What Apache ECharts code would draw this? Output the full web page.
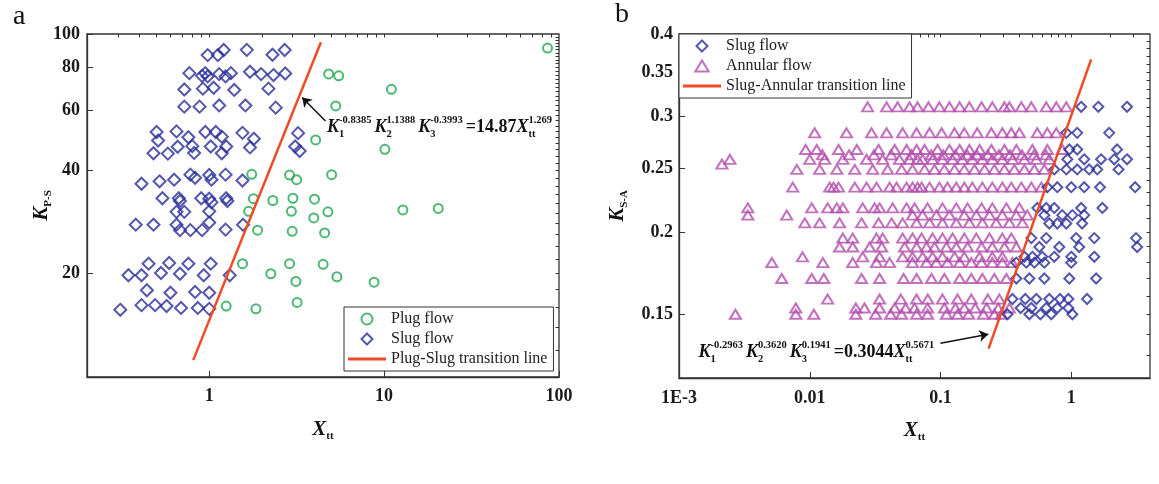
<!DOCTYPE html>
<html>
<head>
<meta charset="utf-8">
<script src="https://cdn.jsdelivr.net/npm/echarts@6/dist/echarts.min.js"></script>
<style>
  html, body { margin: 0; padding: 0; background: #fff; }
  #wrap { position: relative; width: 1159px; height: 484px; }
  #chartA { position: absolute; left: 0; top: 0; width: 580px; height: 484px; }
  #chartB { position: absolute; left: 580px; top: 0; width: 579px; height: 484px; }
</style>
</head>
<body>
<div id="wrap">
  <div id="chartA"></div>
  <div id="chartB"></div>
</div>
<script>
// ---------- panel a : Plug / Slug ----------
const plugFlowA = [
  [86, 91], [4.82, 76.5], [5.5, 75.5], [11.0, 69.0], [5.29, 61.7], [4.06, 49.1], [10.1, 46.1],
  [1.75, 39.0], [2.88, 38.8], [3.16, 37.6], [5.01, 38.9],
  [1.79, 33.1], [2.31, 32.7], [3.01, 33.2], [4.0, 33.0],
  [1.68, 30.4], [2.95, 30.4], [3.96, 29.1], [4.77, 30.3], [12.8, 30.7], [20.4, 31.0],
  [1.89, 26.8], [2.98, 26.6], [4.57, 26.3],
  [1.55, 21.4], [2.25, 20.0], [2.88, 21.4], [3.13, 19.0], [4.48, 21.3], [5.37, 19.6], [8.76, 18.9],
  [1.25, 16.1], [1.85, 15.8], [3.18, 16.5]
]
const slugFlowA = [
  [0.98, 86.8], [1.12, 86.8], [1.21, 89.8], [1.64, 89.9], [2.30, 87.0], [2.70, 89.8],
  [0.77, 76.9], [0.91, 75.5], [0.95, 76.9], [0.98, 75.2], [1.14, 76.4], [1.24, 75.2], [1.33, 76.9],
  [1.71, 77.6], [1.98, 76.4], [2.33, 75.9], [2.72, 76.7],
  [0.72, 68.9], [0.92, 69.3], [1.06, 69.7], [1.39, 68.7], [2.18, 69.3],
  [0.72, 61.4], [0.88, 61.4], [1.14, 61.9], [1.61, 61.9], [2.40, 61.0],
  [0.50, 51.8], [0.51, 48.9], [0.65, 52.0], [0.76, 50.0], [0.80, 47.1], [0.95, 51.8], [1.09, 51.8],
  [1.18, 50.2], [1.55, 51.5], [1.80, 49.5], [3.22, 51.4],
  [0.48, 44.9], [0.58, 44.8], [0.66, 46.9], [0.82, 45.0], [1.02, 47.0], [1.18, 44.9], [1.25, 47.0],
  [1.71, 46.7], [3.10, 47.0], [3.29, 45.6],
  [0.41, 36.6], [0.52, 37.2], [0.63, 37.6], [0.78, 38.9], [0.83, 38.1], [1.0, 38.8], [1.03, 37.6],
  [1.24, 38.9], [1.55, 37.4],
  [0.54, 33.2], [0.67, 33.2], [0.68, 32.6], [0.90, 33.2], [1.0, 33.1], [1.03, 32.3], [1.25, 33.2], [1.27, 32.6],
  [0.65, 30.3], [0.72, 30.3], [1.0, 30.4],
  [0.38, 27.8], [0.48, 27.8], [0.65, 27.8], [0.68, 26.8], [0.78, 26.8], [0.91, 26.8], [1.0, 28.2],
  [1.24, 26.9], [1.56, 27.8],
  [0.345, 19.8], [0.41, 19.8], [0.45, 21.4], [0.53, 20.1], [0.59, 21.5], [0.68, 20.0], [0.76, 21.4],
  [0.93, 19.8], [1.02, 21.4], [1.31, 19.8],
  [0.44, 17.9], [0.60, 17.6], [0.83, 17.7], [1.0, 17.6],
  [0.31, 15.7], [0.41, 16.2], [0.49, 16.2], [0.57, 16.1], [0.69, 15.9], [0.86, 15.9], [1.0, 15.8]
]
const transitionA = [[0.81, 11.2], [4.35, 94.6]]
const arrowA = [[4.62, 55.8], [3.40, 65.3]]
const yTicksA = [20, 40, 60, 80, 100]
const xTicksA = [1, 10, 100]

// ---------- panel b : Slug / Annular ----------
const annularK = [0.31, 0.283, 0.267, 0.262, 0.258, 0.2537, 0.249, 0.234, 0.2176, 0.2122, 0.2065,
  0.1958, 0.1898, 0.1834, 0.1797, 0.170, 0.1582, 0.1533, 0.150]
const annularX = [
  [0.0277, 0.0387, 0.047, 0.058, 0.0667, 0.081, 0.098, 0.117, 0.14, 0.166, 0.206, 0.249, 0.308, 0.336, 0.415, 0.495, 0.644, 0.768, 0.916],
  [0.0109, 0.0191, 0.0297, 0.0387, 0.0513, 0.0656, 0.0824, 0.102, 0.128, 0.152, 0.191, 0.245, 0.297, 0.348, 0.401, 0.55, 0.656, 0.768],
  [0.0093, 0.0113, 0.0166, 0.0229, 0.0336, 0.0446, 0.055, 0.0656, 0.0755, 0.0948, 0.117, 0.14, 0.166, 0.199, 0.245, 0.308, 0.38, 0.504, 0.656, 0.853],
  [0.0125, 0.02, 0.031, 0.042, 0.06, 0.085, 0.105, 0.13, 0.16, 0.19, 0.23, 0.28, 0.34, 0.42, 0.52, 0.64],
  [0.00245, 0.01, 0.013, 0.0179, 0.0272, 0.0361, 0.0486, 0.058, 0.0667, 0.0729, 0.0869, 0.1035, 0.1236, 0.147, 0.175, 0.209, 0.249, 0.297, 0.355, 0.438, 0.541, 0.679],
  [0.00213],
  [0.00796, 0.0119, 0.0161, 0.0221, 0.0303, 0.0394, 0.0504, 0.0611, 0.0755, 0.09, 0.107, 0.128, 0.152, 0.182, 0.217, 0.258, 0.308, 0.367, 0.438, 0.522, 0.622],
  [0.00741, 0.0142, 0.0152, 0.0166, 0.0221, 0.0272, 0.0324, 0.0408, 0.0461, 0.055, 0.0611, 0.0667, 0.0716, 0.0824, 0.098, 0.113, 0.132, 0.152, 0.175, 0.209, 0.249, 0.297, 0.348, 0.415, 0.495, 0.59],
  [0.00336, 0.01035, 0.0137, 0.0161, 0.0179, 0.0254, 0.0313, 0.0342, 0.043, 0.055, 0.0633, 0.0796, 0.1035, 0.132, 0.161, 0.206, 0.249, 0.319, 0.401],
  [0.00336, 0.00667, 0.0611, 0.0729, 0.093, 0.117, 0.152, 0.188, 0.237, 0.297, 0.38, 0.461],
  [0.00916, 0.0119, 0.0169, 0.0249, 0.0336, 0.0423, 0.0513, 0.0656, 0.0824, 0.1035, 0.132, 0.166, 0.209, 0.267, 0.336, 0.423],
  [0.0179, 0.0213, 0.0324, 0.0361, 0.0513, 0.0611, 0.0716, 0.0869, 0.1035, 0.1236, 0.152, 0.188, 0.237, 0.297, 0.348],
  [0.0169, 0.0213, 0.0287, 0.0355, 0.0531, 0.0656, 0.0782, 0.09, 0.111, 0.132, 0.161, 0.206, 0.249, 0.308, 0.38],
  [0.0088, 0.0254, 0.0342, 0.0513, 0.0611, 0.0729, 0.0869, 0.1035, 0.128, 0.152, 0.199, 0.249, 0.297],
  [0.00513, 0.0126, 0.0213, 0.0324, 0.0408, 0.0611, 0.0782, 0.093, 0.113, 0.14, 0.172, 0.206, 0.249, 0.297, 0.355],
  [0.0061, 0.01035, 0.0128, 0.0249, 0.0342, 0.0522, 0.0656, 0.0853, 0.107, 0.14, 0.172, 0.209, 0.258, 0.319],
  [0.0137, 0.0342, 0.0497, 0.0656, 0.08, 0.1035, 0.135, 0.172, 0.23, 0.282],
  [0.00782, 0.0225, 0.0262, 0.0342, 0.0446, 0.0541, 0.0633, 0.0796, 0.107, 0.130, 0.152, 0.184, 0.225, 0.276, 0.336],
  [0.0027, 0.00782, 0.01074, 0.0225, 0.0319, 0.0415, 0.0504, 0.0656, 0.0796, 0.111, 0.135, 0.164, 0.213, 0.258, 0.292]
]
const slugK = [0.31, 0.283, 0.267, 0.258, 0.249, 0.234, 0.2176, 0.2122, 0.2061, 0.1958, 0.1898,
  0.1834, 0.1797, 0.170, 0.1582, 0.1533, 0.150]
const slugX = [
  [1.19, 1.61, 2.67],
  [0.916, 1.11, 1.95],
  [0.966, 1.11, 2.24],
  [0.933, 1.256, 1.69, 2.13, 2.67],
  [0.741, 0.916, 1.11, 1.37, 1.58, 2.3],
  [0.656, 0.782, 1.0, 1.256, 1.66, 3.08],
  [0.55, 0.644, 0.741, 1.19, 1.73],
  [0.622, 0.853, 1.02, 1.256],
  [0.679, 0.782, 0.916, 1.21],
  [0.495, 0.644, 1.09, 1.5, 3.13],
  [0.57, 0.81, 1.15, 3.19],
  [0.438, 0.504, 0.6, 0.741, 1.0, 1.5],
  [0.38, 0.453, 0.522, 0.622, 1.0],
  [0.38, 0.478, 0.622, 0.966, 1.55],
  [0.355, 0.445, 0.541, 0.679, 0.82, 0.95, 1.32],
  [0.41, 0.495, 0.644, 0.782, 0.95],
  [0.325, 0.478, 0.58, 0.703, 1.02]
]
const transitionB = [[0.233, 0.133], [1.42, 0.366]]
const arrowB = [[0.1, 0.1355], [0.232, 0.1399]]
const yTicksB = [0.15, 0.2, 0.25, 0.3, 0.35, 0.4]
const xTicksB = [0.001, 0.01, 0.1, 1]

// ---------- styles ----------
const SERIF = '"Liberation Serif", "Times New Roman", serif'
const BLUE = '#2b2d98'
const GREEN = '#1fa64f'
const PINK = '#b34dac'
const RED = '#ef4b26'
const INK = '#333'
// path symbols keep their shape inside the legend
const DIAMOND = 'path://M6,0L12,6L6,12L0,6Z'
const TRIANGLE = 'path://M5.5,0L11,9L0,9Z'
const BAR = 'path://M0,0H40V3H0Z'

function rows (ks, xs) {
  const out = []
  ks.forEach((k, i) => xs[i].forEach(x => out.push([x, k])))
  return out
}

// minor tick positions (decoration only)
function logMinors (min, max) {
  const out = []
  for (let e = Math.floor(Math.log10(min)); e <= Math.ceil(Math.log10(max)); e++) {
    for (let m = 1; m < 10; m++) {
      const v = +(m * Math.pow(10, e)).toPrecision(6)
      if (v > min && v < max) out.push(v)
    }
  }
  return out
}
function linMinors (min, max, step) {
  const out = []
  for (let v = min + step; v < max - step / 2; v += step) out.push(+v.toPrecision(6))
  return out
}

function axisPair (min, max, majors, minors, fmt, name, nameGap, labelMargin) {
  const main = {
    type: 'log',
    logBase: 10,
    min: min,
    max: max,
    name: name,
    nameLocation: 'middle',
    nameGap: nameGap,
    nameMoveOverlap: false,
    nameTextStyle: {
      rich: {
        i: { fontFamily: SERIF, fontStyle: 'italic', fontWeight: 'bold', fontSize: 21, lineHeight: 24, color: '#111' },
        s: { fontFamily: SERIF, fontWeight: 'bold', fontSize: 11, lineHeight: 12, verticalAlign: 'bottom', color: '#111' }
      }
    },
    axisLine: { show: true, onZero: false, lineStyle: { color: INK, width: 1.3 } },
    axisTick: { show: true, inside: true, length: 6, customValues: majors, lineStyle: { color: INK, width: 1 } },
    axisLabel: {
      customValues: majors,
      formatter: fmt,
      fontFamily: SERIF,
      fontWeight: 'bold',
      fontSize: 18,
      color: '#1a1a1a',
      margin: labelMargin
    },
    splitLine: { show: false },
    minorTick: { show: false }
  }
  const minor = {
    type: 'log',
    logBase: 10,
    min: min,
    max: max,
    axisLine: { show: false },
    axisTick: { show: true, inside: true, length: 3.5, customValues: minors, lineStyle: { color: INK, width: 1 } },
    axisLabel: { show: false },
    splitLine: { show: false }
  }
  return [main, minor]
}

// equation with stacked sub/superscripts
const measureCtx = document.createElement('canvas').getContext('2d')
function textWidth (t, style, weight, size) {
  measureCtx.font = style + ' ' + weight + ' ' + size + 'px ' + SERIF
  return measureCtx.measureText(t).width
}
function equation (x0, yc, groups) {
  const els = []
  let x = x0
  groups.forEach(g => {
    g.main.forEach(m => {
      const st = m.it ? 'italic' : 'normal'
      els.push({
        type: 'text', x: x, y: yc, z: 50,
        style: { text: m.t, fontFamily: SERIF, fontStyle: st, fontWeight: 'bold', fontSize: 18, fill: '#111', verticalAlign: 'middle', align: 'left' }
      })
      x += textWidth(m.t, st, 'bold', 18)
    })
    els.push({
      type: 'text', x: x, y: yc + 7, z: 50,
      style: { text: g.sub, fontFamily: SERIF, fontWeight: 'bold', fontSize: 10.5, fill: '#111', verticalAlign: 'middle', align: 'left' }
    })
    els.push({
      type: 'text', x: x, y: yc - 6.5, z: 50,
      style: { text: g.sup, fontFamily: SERIF, fontWeight: 'bold', fontSize: 10.5, fill: '#111', verticalAlign: 'middle', align: 'left' }
    })
    x += Math.max(textWidth(g.sub, 'normal', 'bold', 10.5), textWidth(g.sup, 'normal', 'bold', 10.5)) + 3
  })
  return els
}

function legendStyle (left, top, data) {
  return {
    orient: 'vertical',
    left: left,
    top: top,
    itemGap: 4,
    itemWidth: 38,
    itemHeight: 11,
    padding: [4, 6, 4, 4],
    borderColor: INK,
    borderWidth: 1,
    backgroundColor: '#fff',
    textStyle: { fontFamily: SERIF, fontSize: 16, color: '#222' },
    data: data
  }
}

function hollow (color) {
  return { color: 'rgba(0,0,0,0)', borderColor: color, borderWidth: 2 }
}

function arrowLine (coords) {
  return {
    silent: true,
    symbol: ['none', 'arrow'],
    symbolSize: 9,
    label: { show: false },
    lineStyle: { color: '#111', width: 1.5, type: 'solid' },
    data: [[{ coord: coords[0] }, { coord: coords[1] }]]
  }
}

// ---------- chart a ----------
const chartA = echarts.init(document.getElementById('chartA'))
const xA = axisPair(0.2, 100, xTicksA, logMinors(0.2, 100), v => String(v), '{i|X}{s|tt}', 41, 10)
const yA = axisPair(10, 100, yTicksA, linMinors(10, 100, 2), v => String(v), '{i|K}{s|P-S}', 33, 7)
chartA.setOption({
  animation: false,
  backgroundColor: '#fff',
  grid: { left: 87, top: 34, width: 472, height: 343, show: true, borderColor: INK, borderWidth: 1.3, backgroundColor: 'transparent' },
  xAxis: xA,
  yAxis: yA,
  legend: legendStyle(344, 307, [
    'Plug flow',
    'Slug flow',
    { name: 'Plug-Slug transition line', icon: BAR }
  ]),
  series: [
    { name: 'Plug flow', type: 'scatter', symbol: 'circle', symbolSize: 9, itemStyle: hollow(GREEN), data: plugFlowA },
    { name: 'Slug flow', type: 'scatter', symbol: DIAMOND, symbolSize: 12, itemStyle: hollow(BLUE), data: slugFlowA },
    {
      name: 'Plug-Slug transition line', type: 'line', symbol: 'none', data: transitionA,
      lineStyle: { color: RED, width: 2.5 }, itemStyle: { color: RED },
      markLine: arrowLine(arrowA)
    }
  ],
  graphic: [
    { type: 'text', left: 13, top: 3, style: { text: 'a', fontFamily: SERIF, fontSize: 28, fill: '#111' } }
  ].concat(equation(327, 127, [
    { main: [{ t: 'K', it: true }], sub: '1', sup: '-0.8385' },
    { main: [{ t: 'K', it: true }], sub: '2', sup: '1.1388' },
    { main: [{ t: 'K', it: true }], sub: '3', sup: '-0.3993' },
    { main: [{ t: '=14.87' }, { t: 'X', it: true }], sub: 'tt', sup: '1.269' }
  ]))
})

// ---------- chart b ----------
const chartB = echarts.init(document.getElementById('chartB'))
const xB = axisPair(0.001, 4, xTicksB, logMinors(0.001, 4), v => (v < 0.0015 ? '1E-3' : String(+v.toPrecision(3))), '{i|X}{s|tt}', 41, 11)
const yB = axisPair(0.12, 0.4, yTicksB, linMinors(0.12, 0.4, 0.01), v => String(+v.toPrecision(3)), '{i|K}{s|S-A}', 49, 6)
chartB.setOption({
  animation: false,
  backgroundColor: '#fff',
  grid: { left: 99, top: 34, width: 471, height: 344, show: true, borderColor: INK, borderWidth: 1.3, backgroundColor: 'transparent' },
  xAxis: xB,
  yAxis: yB,
  legend: legendStyle(99, 34, [
    'Slug flow',
    'Annular flow',
    { name: 'Slug-Annular transition line', icon: BAR }
  ]),
  series: [
    { name: 'Annular flow', type: 'scatter', symbol: TRIANGLE, symbolSize: [11, 9], itemStyle: hollow(PINK), data: rows(annularK, annularX) },
    { name: 'Slug flow', type: 'scatter', symbol: DIAMOND, symbolSize: 10, itemStyle: hollow(BLUE), data: rows(slugK, slugX) },
    {
      name: 'Slug-Annular transition line', type: 'line', symbol: 'none', data: transitionB,
      lineStyle: { color: RED, width: 2.5 }, itemStyle: { color: RED },
      markLine: arrowLine(arrowB)
    }
  ],
  graphic: [
    { type: 'text', left: 35, top: 1, style: { text: 'b', fontFamily: SERIF, fontSize: 28, fill: '#111' } }
  ].concat(equation(118.5, 352, [
    { main: [{ t: 'K', it: true }], sub: '1', sup: '-0.2963' },
    { main: [{ t: 'K', it: true }], sub: '2', sup: '0.3620' },
    { main: [{ t: 'K', it: true }], sub: '3', sup: '0.1941' },
    { main: [{ t: '=0.3044' }, { t: 'X', it: true }], sub: 'tt', sup: '0.5671' }
  ]))
})
</script>
</body>
</html>
